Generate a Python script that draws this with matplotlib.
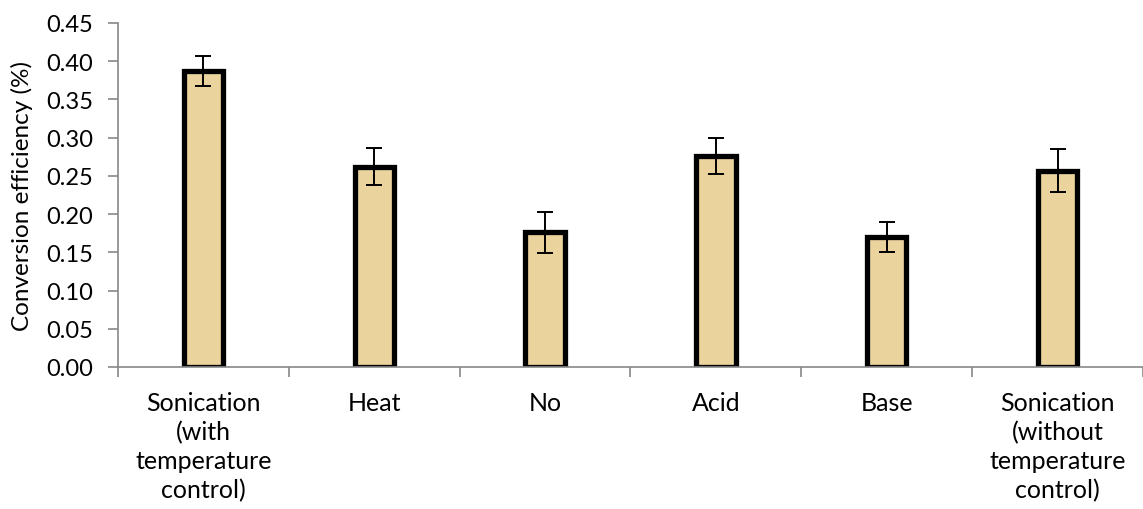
import matplotlib
matplotlib.use("Agg")
import matplotlib.pyplot as plt
import numpy as np

categories = ["Sonication\n(with\ntemperature\ncontrol)", "Heat", "No", "Acid", "Base",
              "Sonication\n(without\ntemperature\ncontrol)"]
values = [0.387, 0.262, 0.176, 0.276, 0.170, 0.257]
errors = [0.020, 0.024, 0.027, 0.023, 0.020, 0.028]
yticks = [0.00, 0.05, 0.10, 0.15, 0.20, 0.25, 0.30, 0.35, 0.40, 0.45]

plt.rcParams['font.family'] = ['Lato', 'DejaVu Sans']

fig = plt.figure(figsize=(11.43, 5.10), dpi=100)
ax = fig.add_axes([118/1143, 1 - 368/510, 1 - 118/1143, (368 - 24)/510])

x = np.arange(len(categories))
ax.bar(x, values, width=0.23, color='#EBD39E', edgecolor='black', linewidth=3.8, zorder=2)
ax.errorbar(x, values, yerr=errors, fmt='none', ecolor='black', elinewidth=1.4,
            capsize=5.5, capthick=1.4, zorder=3)

ax.set_ylim(0, 0.45)
ax.set_yticks(yticks)
ax.set_yticklabels([f"{t:.2f}" for t in yticks], fontsize=17)
ax.set_xlim(-0.5, 5.455)
ax.set_xticks(x)
ax.set_xticklabels(categories, fontsize=18, linespacing=1.32, va='top')
ax.set_xticks(np.arange(-0.5, 6, 1), minor=True)
ax.tick_params(axis='x', which='major', length=0, pad=17)
ax.tick_params(axis='x', which='minor', length=7, color='#888888', width=1.2, direction='out')
ax.tick_params(axis='y', length=7, color='#888888', width=1.2, pad=11)

for s in ['top', 'right']:
    ax.spines[s].set_visible(False)
for s in ['left', 'bottom']:
    ax.spines[s].set_color('#888888')
    ax.spines[s].set_linewidth(1.2)

ax.set_ylabel("Conversion efficiency (%)", fontsize=17.5, labelpad=9)

fig.savefig("out.png", dpi=100)
